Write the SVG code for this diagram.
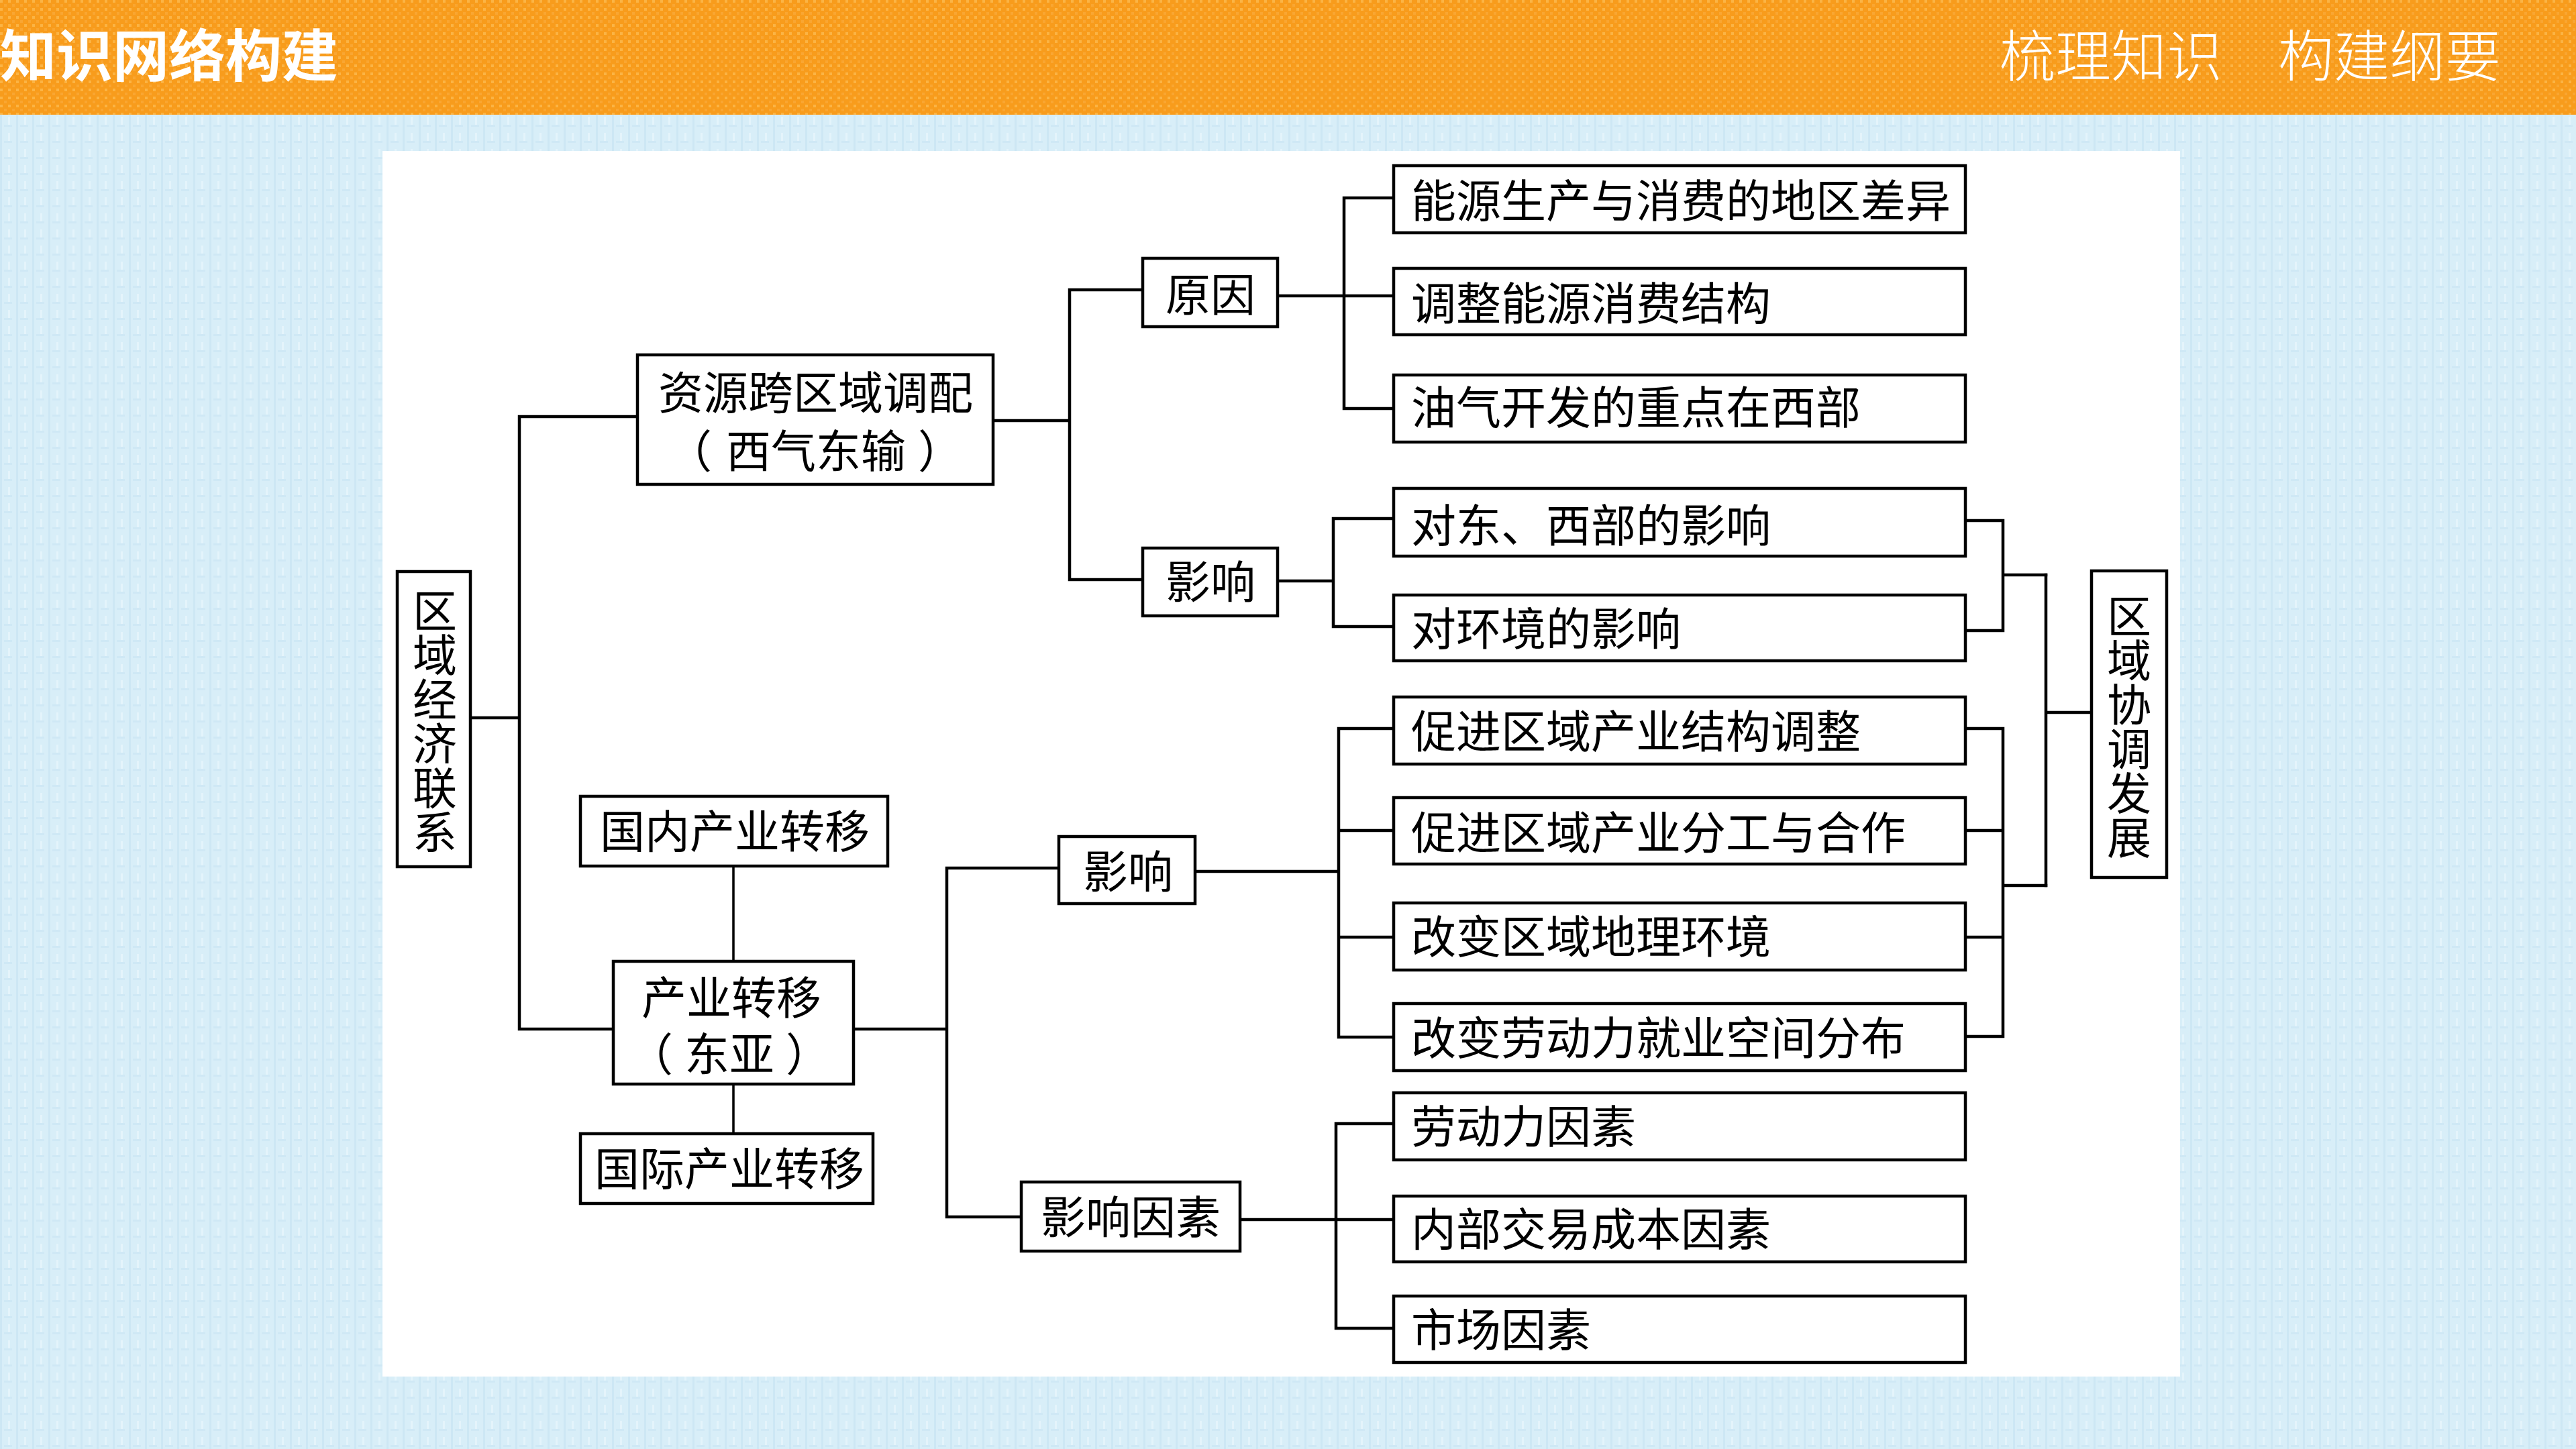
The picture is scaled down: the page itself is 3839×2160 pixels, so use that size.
<svg xmlns="http://www.w3.org/2000/svg" width="3839" height="2160" viewBox="0 0 3839 2160">
<defs>
<pattern id="bluetex" width="24" height="24" patternUnits="userSpaceOnUse">
<rect width="24" height="24" fill="#d8eef8"/>
<rect x="0" y="0" width="3" height="24" fill="#cde7f4"/>
<rect x="12" y="6" width="3" height="12" fill="#e4f4fb"/>
<rect x="6" y="18" width="12" height="3" fill="#cfe8f5"/>
</pattern>
<pattern id="orangetex" width="12" height="12" patternUnits="userSpaceOnUse">
<rect width="12" height="12" fill="#f89c1c"/>
<rect x="0" y="0" width="4" height="4" fill="#fbb445"/>
<rect x="6" y="6" width="4" height="4" fill="#f9a632"/>
</pattern>
</defs>
<style>
.box{fill:#fff;stroke:#000;stroke-width:4.5}
.t{font-family:"Noto Sans CJK SC","Noto Sans CJK JP",sans-serif;font-size:67px;fill:#000}
.c{text-anchor:middle}
.v{font-size:66px;writing-mode:vertical-rl;text-anchor:middle}
.ln{fill:none;stroke:#000;stroke-width:4.5;stroke-linejoin:miter;stroke-linecap:square}
.thin{fill:none;stroke:#000;stroke-width:3.5}
</style>
<rect x="0" y="0" width="3839" height="2160" fill="url(#bluetex)"/>
<rect x="0" y="0" width="3839" height="171" fill="url(#orangetex)"/>
<text x="0" y="114" style="font-family:'Noto Sans CJK SC',sans-serif;font-size:84px;font-weight:700;fill:#fff">知识网络构建</text>
<text x="2980" y="114" style="font-family:'Noto Sans CJK SC',sans-serif;font-size:83px;font-weight:300;fill:#fff">梳理知识　构建纲要</text>
<rect x="570" y="225" width="2679" height="1827" fill="#fff"/>

<g id="connectors">
<path class="ln" d="M701 1070H774M774 621V1534M774 621H950M774 1534H914"/>
<path class="ln" d="M1480 627H1594M1594 432V864M1594 432H1703M1594 864H1703"/>
<path class="ln" d="M1904 441H2077M2003 295V609M2003 295H2077M2003 609H2077"/>
<path class="ln" d="M1904 866H1987M1987 773V934M1987 773H2077M1987 934H2077"/>
<path class="ln" d="M2929 776H2985V940H2929M2985 857H3049"/>
<path class="ln" d="M2929 1086H2985V1545H2929M2929 1238H2985M2929 1397H2985M2985 1320H3049"/>
<path class="ln" d="M3049 857V1320M3049 1062H3117"/>
<path class="thin" d="M1093 1291V1433M1093 1616V1690"/>
<path class="ln" d="M1272 1534H1411M1411 1294V1814M1411 1294H1578M1411 1814H1522"/>
<path class="ln" d="M1781 1299H1995M1995 1086V1546M1995 1086H2077M1995 1238H2077M1995 1397H2077M1995 1546H2077"/>
<path class="ln" d="M1848 1818H2077M1991 1675V1980M1991 1675H2077M1991 1980H2077"/>
</g>

<g id="n-qyjjlx">
<rect class="box" x="592" y="852" width="109" height="440"/>
<text class="t v" x="648" y="1075">区域经济联系</text>
</g>
<g id="n-zykqydp">
<rect class="box" x="950" y="529" width="530" height="193"/>
<text class="t"><tspan x="981" y="610">资源跨区域调配</tspan><tspan x="994" y="697">（</tspan><tspan x="1082" y="697">西气东输</tspan><tspan x="1368" y="697">）</tspan></text>
</g>
<g id="n-yy1">
<rect class="box" x="1703" y="385" width="201" height="102"/>
<text class="t c" x="1804" y="464">原因</text>
</g>
<g id="n-yx1">
<rect class="box" x="1703" y="817" width="201" height="101"/>
<text class="t c" x="1804" y="892">影响</text>
</g>
<g id="n-r1">
<rect class="box" x="2077" y="247" width="852" height="100"/>
<text class="t" x="2103" y="324">能源生产与消费的地区差异</text>
</g>
<g id="n-r2">
<rect class="box" x="2077" y="400" width="852" height="99"/>
<text class="t" x="2103" y="477">调整能源消费结构</text>
</g>
<g id="n-r3">
<rect class="box" x="2077" y="559" width="852" height="100"/>
<text class="t" x="2103" y="632">油气开发的重点在西部</text>
</g>
<g id="n-r4">
<rect class="box" x="2077" y="728" width="852" height="101"/>
<text class="t" x="2103" y="808">对东、西部的影响</text>
</g>
<g id="n-r5">
<rect class="box" x="2077" y="887" width="852" height="98"/>
<text class="t" x="2103" y="962">对环境的影响</text>
</g>
<g id="n-r6">
<rect class="box" x="2077" y="1039" width="852" height="100"/>
<text class="t" x="2103" y="1115">促进区域产业结构调整</text>
</g>
<g id="n-r7">
<rect class="box" x="2077" y="1189" width="852" height="99"/>
<text class="t" x="2103" y="1266">促进区域产业分工与合作</text>
</g>
<g id="n-r8">
<rect class="box" x="2077" y="1346" width="852" height="100"/>
<text class="t" x="2103" y="1421">改变区域地理环境</text>
</g>
<g id="n-r9">
<rect class="box" x="2077" y="1496" width="852" height="100"/>
<text class="t" x="2103" y="1572">改变劳动力就业空间分布</text>
</g>
<g id="n-r10">
<rect class="box" x="2077" y="1629" width="852" height="100"/>
<text class="t" x="2103" y="1704">劳动力因素</text>
</g>
<g id="n-r11">
<rect class="box" x="2077" y="1783" width="852" height="98"/>
<text class="t" x="2103" y="1857">内部交易成本因素</text>
</g>
<g id="n-r12">
<rect class="box" x="2077" y="1932" width="852" height="99"/>
<text class="t" x="2103" y="2007">市场因素</text>
</g>
<g id="n-gncyzy">
<rect class="box" x="865" y="1187" width="458" height="104"/>
<text class="t c" x="1095" y="1264">国内产业转移</text>
</g>
<g id="n-cyzy">
<rect class="box" x="914" y="1433" width="358" height="183"/>
<text class="t"><tspan x="956" y="1512">产业转移</tspan><tspan x="936" y="1596">（</tspan><tspan x="1020" y="1596">东亚</tspan><tspan x="1171" y="1596">）</tspan></text>
</g>
<g id="n-gjcyzy">
<rect class="box" x="865" y="1690" width="436" height="104"/>
<text class="t c" x="1087" y="1767">国际产业转移</text>
</g>
<g id="n-yx2">
<rect class="box" x="1578" y="1247" width="203" height="100"/>
<text class="t c" x="1681" y="1324">影响</text>
</g>
<g id="n-yxys">
<rect class="box" x="1522" y="1762" width="326" height="103"/>
<text class="t c" x="1685" y="1839">影响因素</text>
</g>
<g id="n-qyxtfz">
<rect class="box" x="3117" y="851" width="112" height="457"/>
<text class="t v" x="3173" y="1083">区域协调发展</text>
</g>
</svg>
